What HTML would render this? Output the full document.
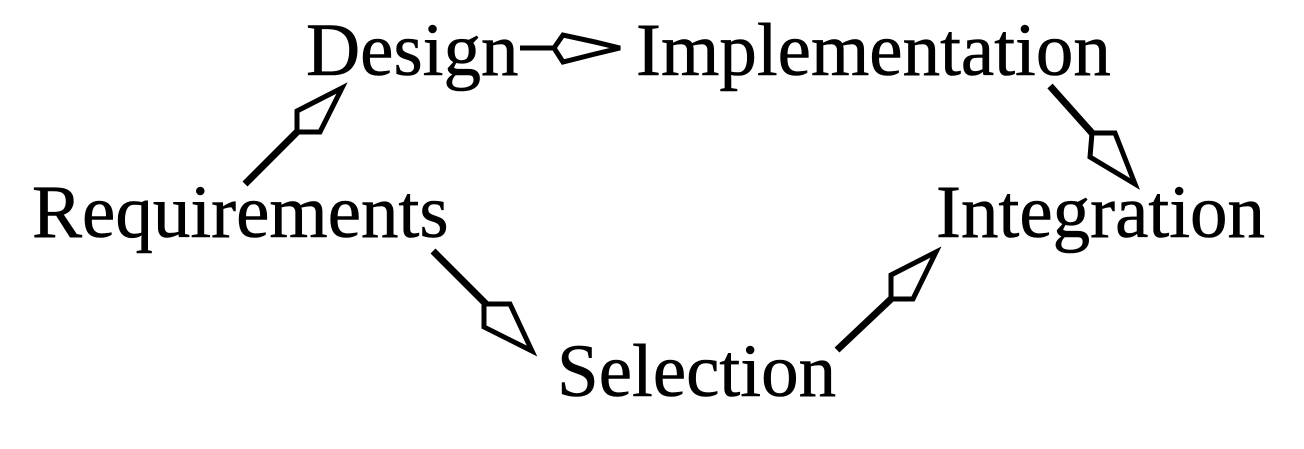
<!DOCTYPE html>
<html><head><style>
html,body{margin:0;padding:0;background:#fff;}
svg{display:block;}
text{font-family:"Liberation Serif",serif;font-size:75px;fill:#000;stroke:#000;stroke-width:0.6px;}
</style></head><body>
<svg width="1304" height="449" viewBox="0 0 1304 449" xmlns="http://www.w3.org/2000/svg">
<text x="306" y="75">Design</text>
<text x="636" y="75">Implementation</text>
<text x="32" y="237">Requirements</text>
<text x="936" y="237">Integration</text>
<text x="557" y="396">Selection</text>
<g stroke="#000" stroke-width="7" fill="none">
<line x1="245" y1="184" x2="297" y2="132"/>
<line x1="520" y1="48" x2="554" y2="48" stroke-width="5"/>
<line x1="433" y1="251" x2="486" y2="304"/>
<line x1="837" y1="350" x2="891" y2="299"/>
<line x1="1050" y1="86" x2="1092" y2="133"/>
</g>
<g stroke="#000" stroke-width="5" fill="#fff" stroke-linejoin="miter">
<polygon points="297,111 342,88 320,132 297,132"/>
<polygon points="554,48 563,35 595,42 620,48 595,54 563,62"/>
<polygon points="484,304 510,304 532,351 484,327"/>
<polygon points="891,275 936,252 913,299 891,299"/>
<polygon points="1092,133 1115,133 1135,184 1090,157"/>
</g>
</svg>
</body></html>
